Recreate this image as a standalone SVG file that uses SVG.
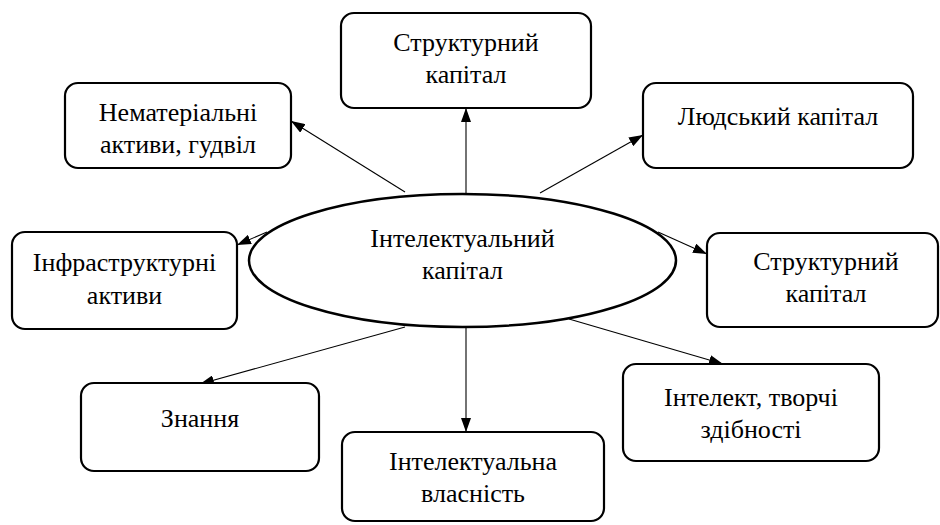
<svg xmlns="http://www.w3.org/2000/svg" width="940" height="525" viewBox="0 0 940 525">
  <defs>
    <marker id="arr" viewBox="0 0 14 10" refX="14" refY="5" markerWidth="14" markerHeight="10" markerUnits="userSpaceOnUse" orient="auto">
      <path d="M0,0 L14,5 L0,10 Z" fill="#000"/>
    </marker>
    <style>
      .box { fill: #fff; stroke: #000; stroke-width: 2.2; }
      .ell { fill: #fff; stroke: #000; stroke-width: 2.5; }
      .lbl { font-family: "Liberation Serif", "Times New Roman", serif; font-size: 26px; fill: #000; text-anchor: middle; }
      .con line { stroke: #000; stroke-width: 1.1; marker-end: url(#arr); }
    </style>
  </defs>
  <rect width="940" height="525" fill="#fff"/>

  <g id="connectors" class="con">
    <line x1="466" y1="193" x2="466" y2="108"/>
    <line x1="405" y1="192" x2="291" y2="121"/>
    <line x1="540" y1="193" x2="643" y2="135"/>
    <line x1="267" y1="232" x2="237" y2="245"/>
    <line x1="658" y1="232" x2="707" y2="254"/>
    <line x1="405" y1="327" x2="200" y2="384"/>
    <line x1="466" y1="327" x2="466" y2="432"/>
    <line x1="569" y1="319" x2="723" y2="364"/>
  </g>

  <g id="n-center">
    <ellipse class="ell" cx="462.5" cy="260.5" rx="213.5" ry="66.5"/>
    <text class="lbl" x="462.5" y="247">Інтелектуальний</text>
    <text class="lbl" x="462.5" y="279">капітал</text>
  </g>

  <g id="n-struct-top">
    <rect class="box" x="341" y="13" width="250" height="95" rx="13"/>
    <text class="lbl" x="466" y="51">Структурний</text>
    <text class="lbl" x="466" y="83">капітал</text>
  </g>

  <g id="n-intangible">
    <rect class="box" x="65" y="83" width="226" height="85" rx="13"/>
    <text class="lbl" x="178" y="121">Нематеріальні</text>
    <text class="lbl" x="178" y="153">активи, гудвіл</text>
  </g>

  <g id="n-human">
    <rect class="box" x="643" y="83" width="270" height="85" rx="13"/>
    <text class="lbl" x="778" y="125">Людський капітал</text>
  </g>

  <g id="n-infra">
    <rect class="box" x="12" y="232" width="225" height="97" rx="13"/>
    <text class="lbl" x="124.5" y="271">Інфраструктурні</text>
    <text class="lbl" x="124.5" y="304">активи</text>
  </g>

  <g id="n-struct-right">
    <rect class="box" x="707" y="233" width="231" height="94" rx="13"/>
    <text class="lbl" x="826" y="270">Структурний</text>
    <text class="lbl" x="826" y="302">капітал</text>
  </g>

  <g id="n-knowledge">
    <rect class="box" x="81" y="383" width="238" height="88" rx="13"/>
    <text class="lbl" x="200" y="427">Знання</text>
  </g>

  <g id="n-ip">
    <rect class="box" x="342" y="432" width="262" height="89" rx="13"/>
    <text class="lbl" x="473" y="470">Інтелектуальна</text>
    <text class="lbl" x="473" y="502">власність</text>
  </g>

  <g id="n-intellect">
    <rect class="box" x="623" y="364" width="256" height="97" rx="13"/>
    <text class="lbl" x="751" y="406">Інтелект, творчі</text>
    <text class="lbl" x="751" y="438">здібності</text>
  </g>
</svg>
